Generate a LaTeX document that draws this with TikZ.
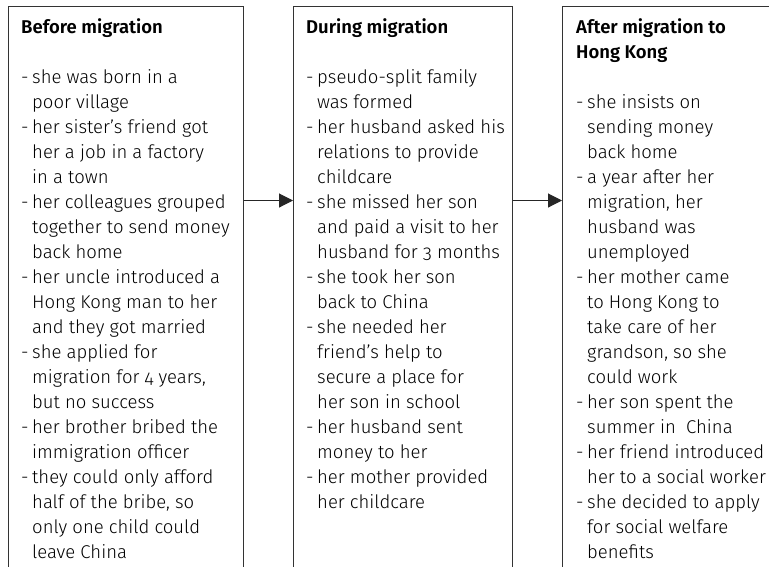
\documentclass[tikz,border=0pt]{standalone}
\usepackage{fontspec}
\setmainfont[Numbers=OldStyle, BoldFont={Fira Sans SemiBold}]{Fira Sans Light}
\usetikzlibrary{arrows.meta}
\newcommand\itm[1]{\par\hangindent=11pt\hangafter=1\noindent\makebox[11pt][l]{-}#1}
\newcommand\ttl[1]{\noindent{\bfseries #1}}
\newcommand\boxfont{\fontsize{18.5pt}{25pt}\selectfont}
\tikzset{
  boxframe/.style={draw=black!80, line width=1.1pt, minimum width=#1, minimum height=580pt, anchor=north west, inner sep=0pt},
  boxtext/.style={anchor=base west, inner sep=0pt, align=left},
  flow/.style={draw=black!85, line width=1.1pt, -{Triangle[length=14pt,width=14pt]}}
}
\begin{document}
\begin{tikzpicture}[x=1pt,y=-1pt]
\useasboundingbox (0,0) rectangle (769,566);
\node[boxframe=235.5pt] (b1) at (7.5,6) {};
\node[boxframe=218.5pt] (b2) at (293,6) {};
\node[boxframe=260pt] (b3) at (562,6) {};
\node[boxtext] (t1) at (21,33) {\parbox[t]{222pt}{\setlength\parindent{0pt}\boxfont
\ttl{Before migration}\par\vspace{25pt}
\itm{she was born in a\\poor village}
\itm{her sister’s friend got\\her a job in a factory\\in a town}
\itm{her colleagues grouped\\together to send money\\back home}
\itm{her uncle introduced a\\Hong Kong man to her\\and they got married}
\itm{she applied for\\migration for 4 years,\\but no success}
\itm{her brother bribed the\\immigration officer}
\itm{they could only afford\\half of the bribe, so\\only one child could\\leave China}}};
\node[boxtext] (t2) at (306,33) {\parbox[t]{205pt}{\setlength\parindent{0pt}\boxfont
\ttl{During migration}\par\vspace{25pt}
\itm{pseudo-split family\\was formed}
\itm{her husband asked his\\relations to provide\\childcare}
\itm{she missed her son\\and paid a visit to her\\husband for 3 months}
\itm{she took her son\\back to China}
\itm{she needed her\\friend’s help to\\secure a place for\\her son in school}
\itm{her husband sent\\money to her}
\itm{her mother provided\\her childcare}}};
\node[boxtext] (t3) at (576,33) {\parbox[t]{193pt}{\setlength\parindent{0pt}\boxfont
\ttl{After migration to\\Hong Kong}\par\vspace{25pt}
\itm{she insists on\\sending money\\back home}
\itm{a year after her\\migration, her\\husband was\\unemployed}
\itm{her mother came\\to Hong Kong to\\take care of her\\grandson, so she\\could work}
\itm{her son spent the\\summer in~ China}
\itm{her friend introduced\\her to a social worker}
\itm{she decided to apply\\for social welfare\\benefits}}};
\path (b1.north east) ++(0,194.5) coordinate (a1s);
\path (b2.north west) ++(0,194.5) coordinate (a1e);
\path (b2.north east) ++(0,194.5) coordinate (a2s);
\path (b3.north west) ++(0,194.5) coordinate (a2e);
\draw[flow] (a1s) -- (a1e);
\draw[flow] (a2s) -- (a2e);
\end{tikzpicture}
\end{document}
